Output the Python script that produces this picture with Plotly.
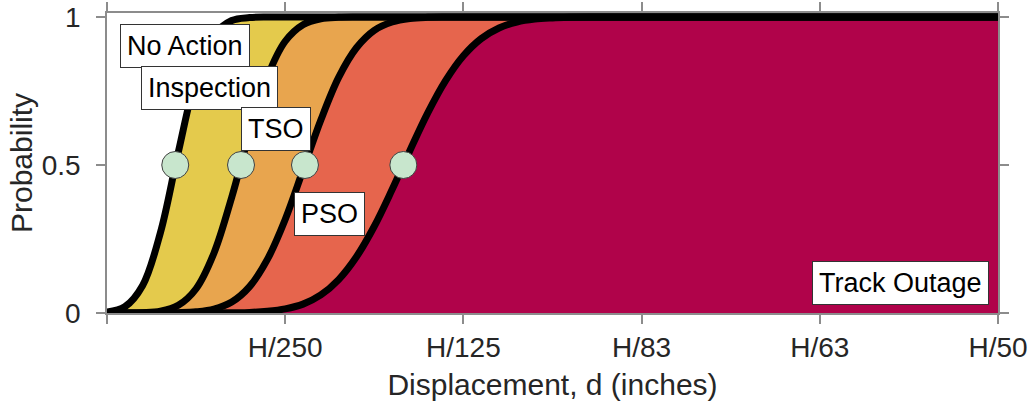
import plotly.graph_objects as go

# Shared displacement grid (units of H/250)
x_grid = [0.0, 0.1, 0.2, 0.3, 0.4, 0.5, 0.6, 0.7, 0.8, 0.9, 1.0, 1.1, 1.2, 1.3, 1.4,
          1.5, 1.6, 1.7, 1.8, 1.9, 2.0, 2.1, 2.2, 2.3, 2.4, 2.5, 2.6, 2.7, 2.8, 5.0]

p_no_action = [0.003, 0.021, 0.093, 0.272, 0.543, 0.794, 0.938, 0.988, 0.998, 1.0,
               1.0, 1.0, 1.0, 1.0, 1.0, 1.0, 1.0, 1.0, 1.0, 1.0,
               1.0, 1.0, 1.0, 1.0, 1.0, 1.0, 1.0, 1.0, 1.0, 1.0]
p_inspection = [0.0, 0.0, 0.001, 0.006, 0.026, 0.082, 0.202, 0.391, 0.609, 0.798,
                0.918, 0.974, 0.994, 0.999, 1.0, 1.0, 1.0, 1.0, 1.0, 1.0,
                1.0, 1.0, 1.0, 1.0, 1.0, 1.0, 1.0, 1.0, 1.0, 1.0]
p_tso = [0.0, 0.0, 0.0, 0.0, 0.001, 0.004, 0.013, 0.037, 0.089, 0.181,
         0.316, 0.483, 0.652, 0.796, 0.896, 0.955, 0.983, 0.995, 0.999, 1.0,
         1.0, 1.0, 1.0, 1.0, 1.0, 1.0, 1.0, 1.0, 1.0, 1.0]
p_pso = [0.0, 0.0, 0.0, 0.0, 0.0, 0.0, 0.0, 0.001, 0.002, 0.006,
         0.014, 0.030, 0.061, 0.113, 0.190, 0.293, 0.417, 0.549, 0.676, 0.785,
         0.869, 0.927, 0.963, 0.983, 0.993, 0.997, 0.999, 1.0, 1.0, 1.0]

median_x = [0.383, 0.752, 1.111, 1.663]
median_p = [0.5, 0.5, 0.5, 0.5]

tick_vals = [0, 1, 2, 3, 4, 5]
tick_text = ["", "H/250", "H/125", "H/83", "H/63", "H/50"]

label_text = ["No Action", "Inspection", "TSO", "PSO", "Track Outage"]
label_x = [0.435, 0.575, 0.946, 1.249, 4.453]
label_y = [0.902, 0.760, 0.622, 0.334, 0.103]

col_yellow = "#E4CA4C"
col_orange = "#E8A54E"
col_salmon = "#E6654D"
col_crimson = "#B0034A"

FONT = "Liberation Sans, Arial, Helvetica, sans-serif"

fig = go.Figure()

# Filled bands (no lines)
fig.add_trace(go.Scatter(x=x_grid, y=p_pso, mode="lines", line=dict(width=0, shape="spline"),
                         fill="tozeroy", fillcolor=col_crimson, hoverinfo="skip"))
fig.add_trace(go.Scatter(x=x_grid, y=p_tso, mode="lines", line=dict(width=0, shape="spline"),
                         fill="tonexty", fillcolor=col_salmon, hoverinfo="skip"))
fig.add_trace(go.Scatter(x=x_grid, y=p_inspection, mode="lines", line=dict(width=0, shape="spline"),
                         fill="tonexty", fillcolor=col_orange, hoverinfo="skip"))
fig.add_trace(go.Scatter(x=x_grid, y=p_no_action, mode="lines", line=dict(width=0, shape="spline"),
                         fill="tonexty", fillcolor=col_yellow, hoverinfo="skip"))

# Thick black curves
for ys in [p_pso, p_tso, p_inspection, p_no_action]:
    fig.add_trace(go.Scatter(x=x_grid, y=ys, mode="lines",
                             line=dict(color="black", width=7, shape="spline"),
                             hoverinfo="skip"))

# Median markers
fig.add_trace(go.Scatter(x=median_x, y=median_p, mode="markers",
                         marker=dict(size=27, color="#C8E6CD",
                                     line=dict(color="#404040", width=1)),
                         hoverinfo="skip", cliponaxis=False))

for t, xx, yy in zip(label_text, label_x, label_y):
    fig.add_annotation(x=xx, y=yy, xref="x", yref="y", text=t, showarrow=False,
                       font=dict(family=FONT, size=27, color="black"),
                       bgcolor="white", bordercolor="#333333", borderwidth=1, borderpad=6)

axis_common = dict(showline=True, linecolor="#8c8c8c", linewidth=1.5, mirror="ticks",
                   ticks="outside", ticklen=9, tickwidth=1.5, tickcolor="#8c8c8c",
                   showgrid=False, zeroline=False, automargin=False,
                   ticklabeloverflow="allow",
                   tickfont=dict(family=FONT, size=28, color="#262626"))

fig.update_xaxes(range=[0, 5], tickvals=tick_vals, ticktext=tick_text,
                 title=dict(text="Displacement, d (inches)",
                            font=dict(family=FONT, size=30, color="#262626"), standoff=12),
                 **axis_common)
fig.update_yaxes(range=[0, 1.0135], tickvals=[0, 0.5, 1], ticktext=["0", "0.5", "1"],
                 ticklabelstandoff=10,
                 title=dict(text="Probability",
                            font=dict(family=FONT, size=30, color="#262626"), standoff=0),
                 **axis_common)

fig.update_layout(width=1034, height=406, showlegend=False,
                  plot_bgcolor="white", paper_bgcolor="white",
                  margin=dict(l=107, r=36, t=13, b=93))

# Remove the default 8px body margin so the figure fills the window exactly
fig.write_html("out.html", config={"displayModeBar": False},
               post_script="document.body.style.margin='0px';")
